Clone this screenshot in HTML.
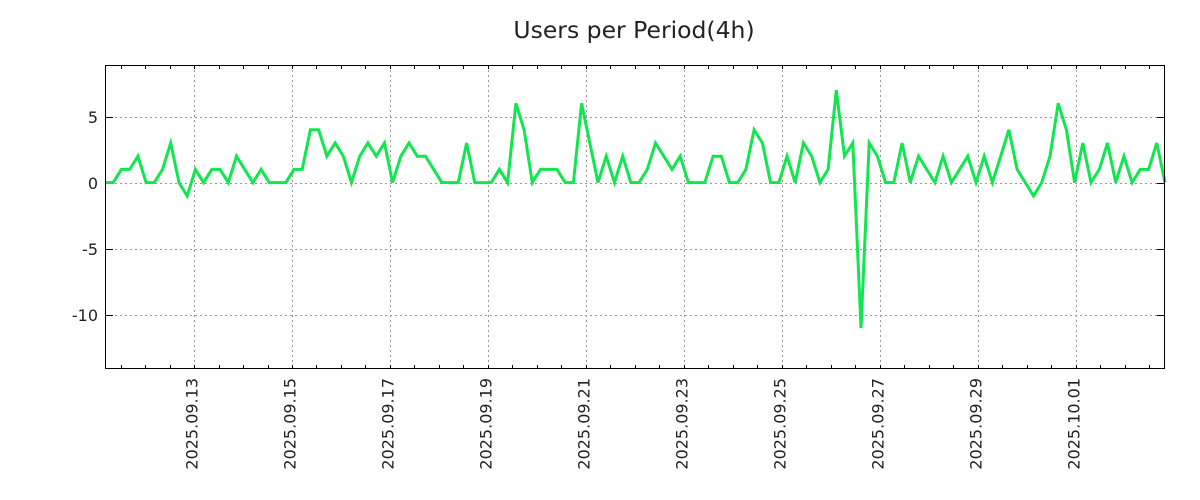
<!DOCTYPE html>
<html><head><meta charset="utf-8">
<style>
html,body{margin:0;padding:0;background:#fff;}
svg{display:block;font-family:"DejaVu Sans","Liberation Sans",sans-serif;}
</style></head>
<body>
<svg id="chart" width="1200" height="500" viewBox="0 0 1200 500">
<text x="634" y="38" text-anchor="middle" font-size="23.5" fill="#222">Users per Period(4h)</text>
<g id="grid"></g>
<g id="ticks"></g>
<g id="labels"></g>
<g id="series"></g>
<rect x="105.5" y="65.5" width="1059" height="303" fill="none" stroke="#000" stroke-width="1"/>
</svg>
<script>
// Data: users per 4h period (hours since 2025-09-11 00:00)
const startHour = 4.4;
const stepHours = 4.025;
const userCounts = [0,0,1,1,2,0,0,1,3,0,-1,1,0,1,1,0,2,1,0,1,0,0,0,1,1,4,4,2,3,2,0,2,3,2,3,0,2,3,2,2,1,0,0,0,3,0,0,0,1,0,6,4,0,1,1,1,0,0,6,3,0,2,0,2,0,0,1,3,2,1,2,0,0,0,2,2,0,0,1,4,3,0,0,2,0,3,2,0,1,7,2,3,-11,3,2,0,0,3,0,2,1,0,2,0,1,2,0,2,0,2,4,1,0,-1,0,2,6,4,0,3,0,1,3,0,2,0,1,1,3,0];
const xTickHours = [48,96,144,192,240,288,336,384,432,480];
const xTickLabels = ["2025.09.13","2025.09.15","2025.09.17","2025.09.19","2025.09.21","2025.09.23","2025.09.25","2025.09.27","2025.09.29","2025.10.01"];
const yTickValues = [5,0,-5,-10];
const yTickLabels = ["5","0","-5","-10"];

const NS = "http://www.w3.org/2000/svg";
const L = 105, R = 1165, T = 65, B = 369;
const tMin = startHour, tMax = startHour + stepHours * (userCounts.length - 1);
const yMin = -14.1, yMax = 8.9;
function xScale(t){ return L + (t - tMin) / (tMax - tMin) * (R - L); }
function yScale(v){ return B - (v - yMin) / (yMax - yMin) * (B - T); }
function mk(tag, attrs, parent){ const e = document.createElementNS(NS, tag); for (const k in attrs) e.setAttribute(k, attrs[k]); parent.appendChild(e); return e; }

const grid = document.getElementById('grid');
const ticks = document.getElementById('ticks');
const labels = document.getElementById('labels');

yTickValues.forEach((v, i) => {
  const y = Math.round(yScale(v)) + 0.5;
  const g = mk('line', {x1:L, x2:R, y1:y, y2:y, stroke:'#999', 'stroke-dasharray':'2,3'}, grid);
  
  
  const t1 = mk('line', {x1:L, x2:L+8, y1:y, y2:y, stroke:'#000'}, ticks);
  
  
  const t2 = mk('line', {x1:R-8, x2:R, y1:y, y2:y, stroke:'#000'}, ticks);
  
  
  const lb = mk('text', {x:L-7, y:y+5.5, 'text-anchor':'end', 'font-size':16, fill:'#222'}, labels);
  lb.textContent = yTickLabels[i];
  
  
});

for (let h = 12; h <= tMax; h += 12) {
  if (h < tMin) continue;
  const x = Math.round(xScale(h)) + 0.5;
  const t1 = mk('line', {x1:x, x2:x, y1:B, y2:B-4, stroke:'#000'}, ticks);
  
  
  const t2 = mk('line', {x1:x, x2:x, y1:T, y2:T+4, stroke:'#000'}, ticks);
  
  
}

xTickHours.forEach((h, i) => {
  const x = Math.round(xScale(h)) + 0.5;
  const g = mk('line', {x1:x, x2:x, y1:T, y2:B, stroke:'#999', 'stroke-dasharray':'2,3'}, grid);
  
  
  const lb = mk('text', {x:0, y:0, 'text-anchor':'end', 'font-size':16, fill:'#222', transform:'translate(' + (x+3) + ',378) rotate(-90)'}, labels);
  lb.textContent = xTickLabels[i];
  
  
});

const pts = userCounts.map((v, i) => xScale(startHour + i * stepHours).toFixed(1) + ',' + yScale(v).toFixed(1)).join(' ');
const line = mk('polyline', {points:pts, fill:'none', stroke:'#11e64f', 'stroke-width':3, 'stroke-linejoin':'miter'}, document.getElementById('series'));


</script>
</body></html>
